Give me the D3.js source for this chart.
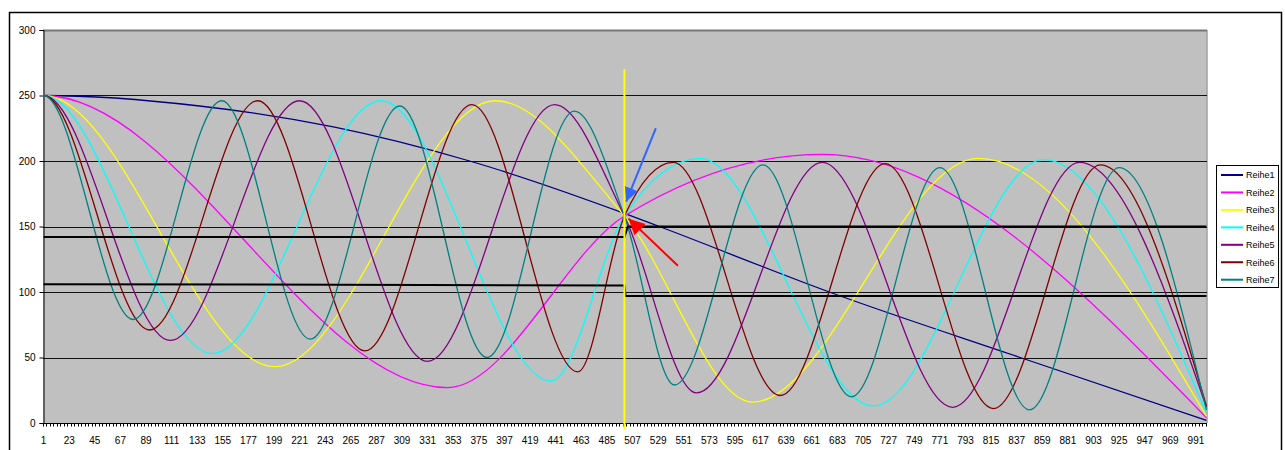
<!DOCTYPE html>
<meta charset="utf-8">
<script src="https://cdn.jsdelivr.net/npm/d3@7/dist/d3.min.js"></script>
<style>
body { margin: 0; background: #fff; }
text { font-family: Arial, "Liberation Sans", sans-serif; fill: #000; }
</style>
<body>
<script>

// key points: [category, value]
// (the left edge of the plot, category 0.5, is still at 250 for every series)
var reihe1 = [[0.5,250],[1,250],[135,242],[250,226],[367,200],[500,160],[530,150],[676,100],[840,50],[1000,2]];
var reihe2 = [[0.5,250],[1,250],[348,27],[500,158],[670,205],[1000,4]];
var reihe3 = [[0.5,250],[1,250],[200,43],[389,246],[500,158],[610,16],[804,202],[1000,5]];
var reihe4 = [[0.5,250],[1,250],[146,53],[291,246],[437,32],[500,158],[565,202],[714,13],[860,201],[1000,8]];
var reihe5 = [[0.5,250],[1,250],[110,63],[221,246],[331,47],[440,243],[500,158],[562,23],[670,199],[782,12],[891,199],[1000,12]];
var reihe6 = [[0.5,250],[1,250],[92,71],[185,246],[277,55],[369,243],[460,39],[500,158],[542,199],[634,21],[724,198],[817,11],[909,197],[1000,13]];
var reihe7 = [[0.5,250],[1,250],[78,79],[154,246],[230,64],[307,242],[382,50],[457,238],[500,158],[543,29],[619,197],[695,20],[771,195],[848,10],[925,195],[1000,10]];

var seriesNames = ["Reihe1","Reihe2","Reihe3","Reihe4","Reihe5","Reihe6","Reihe7"];
var seriesColors = ["#000080","#ff00ff","#ffff00","#00ffff","#800080","#800000","#008080"];

// the two black step lines and the marker line at 500
var stepUpper = [[1,142],[500,142],[503,150],[1000,150]];
var stepLower = [[1,106],[500,105],[501,97],[1000,97]];
var markerLine = [[500,270],[500,-5]];

// arrows: [start, tip]
var blueArrow = [[527,225],[501.5,169]];
var redArrow = [[546,120],[503.5,156]];

var yTicks = [0,50,100,150,200,250,300];
var xTickLabels = [1,23,45,67,89,111,133,155,177,199,221,243,265,287,309,331,353,375,397,419,441,463,485,507,529,551,573,595,617,639,661,683,705,727,749,771,793,815,837,859,881,903,925,947,969,991];

var width = 1285, height = 450;
var plotLeft = 43, plotRight = 1207, plotTop = 30, plotBottom = 423;

var svg = d3.select("body").append("svg")
    .attr("width", width)
    .attr("height", height);

// chart frame
svg.append("rect")
    .attr("x", 9.5).attr("y", 12.5)
    .attr("width", 1272).attr("height", 460)
    .attr("fill", "#fff")
    .attr("stroke", "#000")
    .attr("stroke-width", 1.5);

var x = d3.scaleLinear().domain([0.5, 1000.5]).range([plotLeft, plotRight]);
var y = d3.scaleLinear().domain([0, 300]).range([plotBottom, plotTop]);

// plot area
svg.append("rect")
    .attr("x", plotLeft).attr("y", plotTop)
    .attr("width", plotRight - plotLeft).attr("height", plotBottom - plotTop)
    .attr("fill", "#c0c0c0");
svg.append("line")
    .attr("x1", plotRight).attr("x2", plotRight)
    .attr("y1", plotTop).attr("y2", plotBottom)
    .attr("stroke", "#a0a0a0").attr("stroke-width", 1.5);

// gridlines
svg.append("g").selectAll("line")
    .data(yTicks.filter(function(d) { return d > 0; }))
    .enter().append("line")
    .attr("x1", plotLeft).attr("x2", plotRight)
    .attr("y1", function(d) { return Math.round(y(d)) + 0.5; })
    .attr("y2", function(d) { return Math.round(y(d)) + 0.5; })
    .attr("stroke", function(d) { return d == 300 ? "#777" : "#111"; })
    .attr("stroke-width", function(d) { return d == 300 ? 2 : 1; });

// y axis
var yAxis = d3.axisLeft(y).tickValues(yTicks).tickSize(4).tickPadding(4);
var gy = svg.append("g")
    .attr("transform", "translate(" + (plotLeft + 0.5) + ",0)")
    .call(yAxis);
gy.select(".domain").attr("stroke", "#000");
gy.selectAll(".tick line").attr("stroke", "#000");
gy.selectAll("text").style("font-size", "10px").style("font-family", "Arial, 'Liberation Sans', sans-serif");

// x axis: dense category ticks, labels every 22
var gx = svg.append("g")
    .attr("transform", "translate(0," + (plotBottom + 0.5) + ")");
gx.append("line")
    .attr("x1", plotLeft).attr("x2", plotRight)
    .attr("stroke", "#000");
gx.selectAll(".minor")
    .data(d3.range(0, 1001, 3))
    .enter().append("line")
    .attr("class", "minor")
    .attr("x1", function(d) { return Math.round(x(d + 0.5)) + 0.5; })
    .attr("x2", function(d) { return Math.round(x(d + 0.5)) + 0.5; })
    .attr("y1", 0).attr("y2", 3)
    .attr("stroke", "#000");
gx.selectAll(".lab")
    .data(xTickLabels)
    .enter().append("text")
    .attr("class", "lab")
    .attr("x", function(d) { return x(d); })
    .attr("y", 20)
    .attr("text-anchor", "middle")
    .style("font-size", "10px")
    .text(function(d) { return d; });

// series
var line = d3.line()
    .x(function(d) { return x(d[0]); })
    .y(function(d) { return y(d[1]); })
    .curve(d3.curveMonotoneX);

var allSeries = [reihe1, reihe2, reihe3, reihe4, reihe5, reihe6, reihe7];
svg.append("g").selectAll("path")
    .data(allSeries)
    .enter().append("path")
    .attr("d", line)
    .attr("fill", "none")
    .attr("stroke", function(d, i) { return seriesColors[i]; })
    .attr("stroke-width", 1.3);

// black step lines
var straight = d3.line()
    .x(function(d) { return x(d[0]); })
    .y(function(d) { return y(d[1]); });
svg.append("g").selectAll("path")
    .data([stepUpper, stepLower])
    .enter().append("path")
    .attr("d", straight)
    .attr("fill", "none")
    .attr("stroke", "#000")
    .attr("stroke-width", 2);

// yellow marker line
svg.append("path")
    .attr("d", straight(markerLine))
    .attr("stroke", "#ffff00")
    .attr("stroke-width", 2);

// arrows
var defs = svg.append("defs");
[["blueHead", "#3366ff", 14], ["redHead", "#ff0000", 16]].forEach(function(m) {
  defs.append("marker")
      .attr("id", m[0])
      .attr("markerUnits", "userSpaceOnUse")
      .attr("viewBox", "0 -10 20 20")
      .attr("markerWidth", 20).attr("markerHeight", 20)
      .attr("refX", m[2]).attr("refY", 0)
      .attr("orient", "auto")
    .append("path")
      .attr("d", "M0," + (-m[2] / 2) + "L" + m[2] + ",0L0," + (m[2] / 2) + "Z")
      .attr("fill", m[1]);
});
svg.append("path")
    .attr("d", straight(blueArrow))
    .attr("stroke", "#3366ff")
    .attr("stroke-width", 2)
    .attr("marker-end", "url(#blueHead)");
svg.append("path")
    .attr("d", straight(redArrow))
    .attr("stroke", "#ff0000")
    .attr("stroke-width", 2)
    .attr("marker-end", "url(#redHead)");

// legend
var legend = svg.append("g");
legend.append("rect")
    .attr("x", 1216.5).attr("y", 165.5)
    .attr("width", 62).attr("height", 122)
    .attr("fill", "#fff")
    .attr("stroke", "#000");
var item = legend.selectAll(".item")
    .data(seriesNames)
    .enter().append("g")
    .attr("class", "item")
    .attr("transform", function(d, i) { return "translate(0," + (175 + i * 17.45) + ")"; });
item.append("line")
    .attr("x1", 1221).attr("x2", 1243)
    .attr("stroke", function(d, i) { return seriesColors[i]; })
    .attr("stroke-width", 2);
item.append("text")
    .attr("x", 1246).attr("y", 3.3)
    .style("font-size", "9px")
    .text(function(d) { return d; });

</script>
</body>
